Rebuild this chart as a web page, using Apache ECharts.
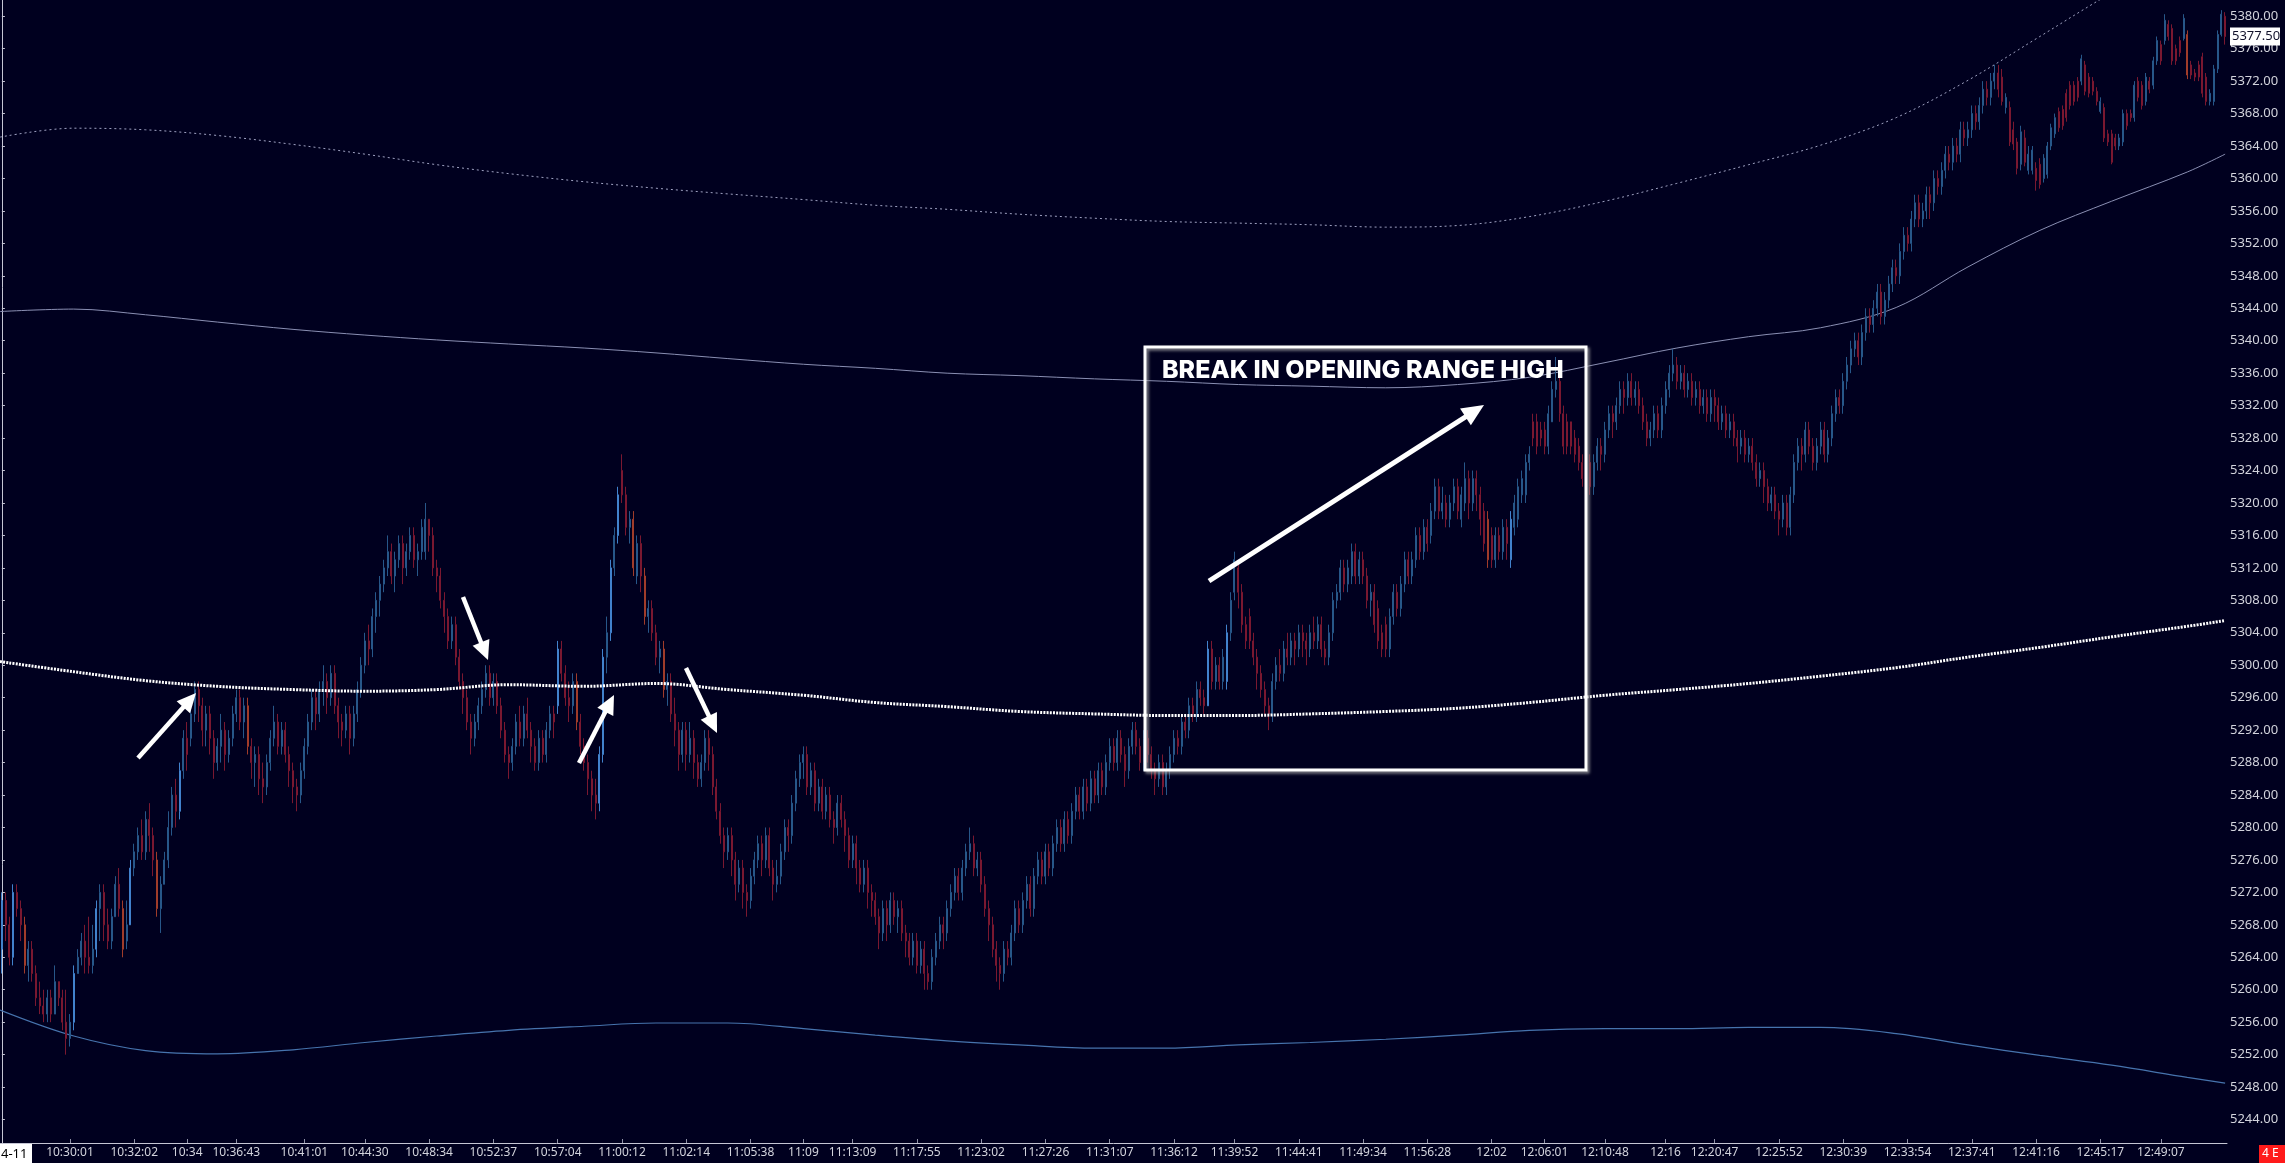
<!DOCTYPE html>
<html><head><meta charset="utf-8">
<script src="https://cdn.jsdelivr.net/npm/echarts@6/dist/echarts.min.js"></script>
<style>html,body{margin:0;padding:0;background:#00001f;overflow:hidden}#c{width:2285px;height:1163px}</style>
</head><body><div id="c"></div>
<script>
// ---- candle data (price) ----
const opens = [
5265,5271,5268,5264,5272,5270,5268,5263,5265,5262,
5259,5258,5257,5259,5257,5261,5259,5256,5254,5256,
5262,5264,5266,5264,5263,5265,5270,5272,5268,5266,
5269,5273,5270,5266,5268,5275,5277,5279,5277,5281,
5279,5276,5270,5273,5276,5280,5284,5282,5287,5291,
5291,5294,5297,5295,5292,5294,5291,5288,5290,5292,
5289,5291,5294,5296,5293,5295,5290,5288,5289,5286,
5285,5288,5291,5293,5290,5292,5289,5287,5285,5284,
5287,5290,5293,5296,5294,5297,5298,5296,5299,5295,
5293,5292,5294,5291,5294,5297,5300,5303,5302,5306,
5308,5310,5312,5314,5311,5313,5315,5312,5314,5316,
5313,5314,5314,5318,5316,5312,5311,5308,5306,5303,
5305,5301,5298,5296,5293,5291,5293,5295,5297,5299,
5296,5298,5295,5292,5289,5288,5290,5293,5291,5294,
5292,5290,5288,5291,5289,5292,5294,5295,5302,5299,
5296,5295,5298,5293,5290,5288,5286,5284,5283,5289,
5301,5304,5312,5316,5324,5321,5317,5318,5311,5315,
5311,5306,5307,5304,5301,5302,5297,5298,5294,5292,
5289,5292,5289,5291,5288,5286,5288,5291,5289,5285,
5282,5279,5277,5279,5276,5273,5275,5272,5271,5274,
5276,5278,5276,5279,5275,5273,5274,5277,5280,5279,
5283,5286,5288,5289,5285,5287,5283,5285,5282,5284,
5281,5280,5283,5281,5279,5276,5278,5275,5273,5275,
5272,5271,5269,5267,5270,5268,5271,5269,5270,5267,
5266,5264,5266,5263,5265,5262,5261,5264,5266,5268,
5267,5270,5272,5274,5272,5275,5277,5278,5275,5276,
5273,5270,5268,5265,5263,5262,5265,5264,5267,5270,
5268,5271,5273,5270,5274,5276,5274,5277,5275,5278,
5280,5278,5281,5279,5282,5284,5282,5285,5283,5286,
5284,5287,5285,5288,5290,5288,5291,5289,5287,5290,
5292,5290,5288,5291,5289,5287,5286,5288,5285,5287,
5289,5291,5290,5293,5292,5295,5294,5297,5296,5295,
5302,5298,5300,5298,5298,5304,5309,5312,5309,5305,
5306,5303,5301,5299,5297,5295,5294,5298,5300,5299,
5302,5301,5303,5302,5304,5303,5302,5304,5303,5305,
5302,5301,5304,5308,5309,5312,5310,5311,5314,5311,
5313,5311,5308,5309,5307,5304,5305,5302,5306,5309,
5307,5310,5313,5311,5313,5316,5314,5317,5316,5319,
5322,5319,5320,5318,5320,5322,5318,5320,5323,5320,
5323,5321,5319,5318,5316,5313,5316,5314,5317,5313,
5317,5318,5321,5321,5325,5330,5330,5329,5329,5327,
5330,5334,5335,5331,5330,5330,5328,5327,5325,5323,
5325,5322,5325,5327,5326,5329,5331,5330,5332,5334,
5333,5335,5333,5334,5332,5330,5328,5329,5331,5329,
5332,5334,5336,5337,5335,5336,5334,5335,5333,5334,
5332,5333,5331,5333,5332,5330,5331,5329,5330,5328,
5327,5328,5326,5327,5325,5323,5324,5322,5320,5321,
5319,5318,5320,5317,5321,5325,5327,5326,5329,5327,
5325,5327,5329,5326,5328,5331,5333,5332,5335,5337,
5339,5340,5338,5341,5343,5342,5344,5346,5343,5345,
5347,5349,5348,5351,5353,5352,5355,5357,5355,5356,
5358,5357,5360,5359,5361,5363,5362,5364,5363,5366,
5365,5366,5368,5367,5369,5371,5370,5372,5373,5372.5,
5368.75,5368.75,5366,5364.5,5361.75,5365,5361,5361,5361.25,5361.75,
5360,5360.5,5364,5365.5,5368.25,5368.5,5370.5,5371.5,5371.5,5372,
5372,5374,5372.5,5372,5370.75,5368.25,5368.75,5365.5,5365.5,5365,
5364,5364.5,5368,5368,5367.5,5372,5371.5,5369.5,5372,5371.5,
5374.5,5376.5,5377,5379,5378.5,5376,5377,5377.25,5377.75,5374,
5373,5374,5375,5372.5,5369.5,5369.5,5373.5,5377.75,5380
];
const closes = [
5271,5268,5264,5272,5270,5268,5263,5265,5262,5259,
5258,5257,5259,5257,5261,5259,5256,5254,5256,5262,
5264,5266,5264,5263,5265,5270,5272,5268,5266,5269,
5273,5270,5265,5268,5275,5277,5279,5277,5281,5279,
5276,5270,5273,5276,5280,5284,5282,5287,5291,5289,
5294,5297,5295,5292,5294,5291,5288,5290,5292,5289,
5291,5294,5296,5293,5295,5290,5288,5289,5286,5285,
5288,5291,5293,5290,5292,5289,5287,5285,5284,5287,
5290,5293,5296,5294,5297,5298,5296,5299,5295,5293,
5292,5294,5291,5294,5297,5300,5303,5302,5306,5308,
5310,5312,5314,5311,5313,5315,5312,5314,5316,5313,
5314,5317,5318,5316,5312,5311,5308,5306,5303,5305,
5301,5298,5296,5293,5291,5293,5295,5297,5299,5296,
5298,5295,5292,5289,5288,5290,5293,5291,5294,5292,
5290,5288,5291,5289,5292,5294,5293,5302,5299,5296,
5295,5298,5293,5290,5288,5286,5284,5283,5289,5301,
5304,5312,5316,5321,5321,5317,5318,5312,5315,5311,
5306,5307,5304,5301,5302,5297,5298,5294,5292,5289,
5292,5289,5291,5288,5286,5288,5291,5289,5285,5282,
5279,5277,5279,5276,5273,5275,5272,5271,5274,5276,
5278,5276,5279,5275,5273,5274,5277,5280,5279,5283,
5286,5288,5289,5285,5287,5283,5285,5282,5284,5281,
5280,5283,5281,5279,5276,5278,5275,5273,5275,5272,
5271,5269,5267,5270,5268,5271,5269,5270,5267,5266,
5264,5266,5263,5265,5262,5261,5264,5266,5268,5267,
5270,5272,5274,5272,5275,5277,5278,5275,5276,5273,
5270,5268,5265,5263,5262,5265,5264,5267,5270,5268,
5271,5273,5270,5274,5276,5274,5277,5275,5278,5280,
5278,5281,5279,5282,5284,5282,5285,5283,5286,5284,
5287,5285,5288,5290,5288,5291,5289,5287,5290,5292,
5290,5288,5291,5289,5287,5286,5288,5285,5287,5289,
5291,5290,5293,5292,5295,5294,5297,5296,5295,5302,
5298,5300,5298,5301,5304,5308,5313,5309,5305,5303,
5303,5301,5299,5297,5295,5294,5298,5300,5299,5302,
5301,5303,5302,5304,5303,5302,5304,5303,5305,5302,
5301,5304,5308,5309,5312,5310,5312,5314,5311,5313,
5311,5308,5309,5305,5303,5302,5302,5306,5309,5307,
5310,5313,5311,5313,5316,5314,5317,5315,5319,5322,
5319,5320,5318,5320,5322,5319,5321,5323,5320,5323,
5321,5318,5315,5313,5313,5316,5314,5317,5315,5318,
5320,5322,5323,5325,5326,5328,5327,5328,5327,5331,
5334,5335,5331,5327,5327,5327,5326,5325,5323,5325,
5322,5325,5327,5326,5329,5331,5330,5332,5334,5333,
5335,5333,5334,5332,5330,5328,5329,5331,5329,5332,
5334,5336,5337,5335,5336,5334,5335,5333,5334,5332,
5333,5331,5333,5332,5330,5331,5329,5330,5328,5327,
5328,5326,5327,5325,5323,5324,5322,5320,5321,5319,
5318,5320,5317,5321,5325,5327,5326,5329,5327,5325,
5327,5329,5326,5328,5331,5333,5332,5335,5337,5339,
5340,5338,5341,5343,5342,5344,5346,5343,5345,5347,
5349,5348,5351,5353,5352,5355,5357,5355,5356,5358,
5357,5360,5359,5361,5363,5362,5364,5363,5366,5365,
5366,5368,5367,5369,5371,5370,5372,5373,5371,5369.5,
5370,5364.5,5364.25,5361.25,5365.75,5362,5363,5363.5,5359.75,5359.25,
5362.5,5364,5366.25,5367.5,5366.25,5366.5,5367.5,5369,5369.5,5370,
5374.75,5370.75,5370.5,5370.75,5369.5,5369.5,5365,5364.5,5362,5364,
5365,5368,5366.5,5367.5,5371.5,5370,5369,5372.5,5371,5374.5,
5377,5374.5,5379.5,5377.5,5374.5,5374.5,5375.5,5379.75,5372.75,5372.75,
5372.5,5372.5,5370.5,5369.5,5370.5,5373.5,5377.75,5380.25,5377.5
];
const lows = [
5262,5266,5263,5263,5269,5266,5262,5261,5261,5258,
5257,5256,5256,5256,5257,5258,5255,5252,5253,5255,
5262,5263,5262,5262,5262,5264,5266,5266,5265,5265,
5269,5269,5264,5265,5268,5274,5276,5276,5276,5277,
5274,5269,5267,5273,5275,5279,5280,5281,5286,5287,
5290,5293,5293,5290,5290,5289,5286,5287,5288,5287,
5288,5290,5293,5292,5291,5289,5286,5285,5284,5283,
5284,5287,5290,5289,5289,5288,5285,5283,5282,5283,
5286,5289,5292,5292,5293,5295,5294,5295,5294,5291,
5290,5291,5289,5290,5293,5296,5299,5300,5301,5304,
5306,5309,5311,5310,5309,5312,5310,5311,5313,5312,
5311,5313,5313,5314,5311,5309,5307,5304,5302,5302,
5300,5297,5294,5292,5289,5290,5292,5294,5296,5295,
5295,5294,5291,5288,5286,5287,5289,5290,5290,5291,
5288,5287,5287,5288,5288,5291,5291,5294,5298,5295,
5293,5294,5292,5289,5287,5284,5282,5281,5282,5288,
5299,5303,5311,5315,5320,5316,5315,5311,5310,5309,
5305,5304,5303,5300,5299,5296,5295,5293,5290,5287,
5288,5287,5288,5286,5285,5285,5287,5287,5284,5281,
5278,5275,5276,5274,5271,5272,5270,5269,5270,5273,
5275,5274,5275,5274,5271,5272,5273,5276,5277,5278,
5282,5285,5286,5284,5284,5282,5282,5281,5281,5280,
5278,5279,5280,5277,5275,5275,5273,5272,5272,5270,
5269,5268,5265,5266,5266,5267,5268,5267,5266,5264,
5263,5263,5262,5262,5260,5260,5260,5263,5265,5265,
5266,5269,5271,5271,5271,5274,5276,5274,5274,5272,
5269,5266,5264,5261,5260,5261,5263,5263,5266,5267,
5267,5270,5269,5269,5273,5273,5273,5274,5274,5277,
5277,5277,5278,5278,5281,5281,5281,5282,5282,5283,
5283,5284,5284,5287,5287,5287,5288,5285,5286,5289,
5289,5287,5287,5288,5286,5284,5285,5284,5284,5286,
5288,5289,5289,5291,5291,5293,5293,5295,5294,5295,
5297,5297,5297,5297,5297,5303,5308,5307,5304,5302,
5302,5300,5297,5296,5294,5292,5293,5297,5298,5298,
5300,5300,5300,5301,5301,5300,5301,5302,5302,5301,
5300,5300,5303,5307,5308,5309,5309,5310,5310,5310,
5310,5307,5306,5304,5302,5301,5301,5301,5305,5306,
5306,5309,5310,5310,5312,5313,5313,5314,5315,5318,
5318,5318,5317,5317,5319,5318,5317,5319,5318,5319,
5319,5316,5314,5312,5312,5312,5313,5313,5313,5312,
5316,5317,5320,5320,5324,5327,5326,5327,5326,5326,
5330,5333,5330,5326,5326,5326,5325,5324,5322,5322,
5321,5321,5324,5324,5325,5328,5328,5329,5331,5331,
5332,5332,5332,5331,5329,5327,5327,5328,5328,5328,
5331,5333,5335,5334,5334,5333,5333,5332,5332,5331,
5331,5330,5330,5330,5329,5329,5328,5328,5327,5325,
5326,5325,5325,5324,5322,5322,5320,5319,5319,5318,
5316,5317,5316,5316,5320,5324,5324,5325,5326,5324,
5324,5326,5325,5325,5327,5330,5331,5331,5334,5336,
5338,5337,5337,5340,5341,5341,5343,5342,5342,5344,
5346,5347,5347,5350,5351,5351,5354,5354,5354,5355,
5355,5356,5358,5358,5360,5361,5361,5362,5362,5364,
5364,5365,5366,5366,5368,5369,5369,5371,5370,5369,
5368,5364,5363.5,5360.5,5361,5361.5,5360.5,5360.5,5358.5,5358.75,
5359.5,5360,5363.5,5365,5365.75,5366,5367,5368.5,5369,5369.5,
5371.5,5370.25,5370,5370.25,5369,5368,5364.5,5364,5361.75,5363.5,
5363.5,5364,5366,5367,5367,5369.5,5368.5,5369,5370.5,5371,
5374,5374,5376.5,5377,5374,5374,5375,5377,5372.25,5372.25,
5372,5372,5370,5369,5369,5369,5373,5377.5,5376.5
];
const highs = [
5272,5272,5269,5273,5273,5271,5269,5266,5266,5263,
5261,5260,5260,5260,5263,5261,5260,5260,5257,5263,
5265,5267,5268,5269,5268,5271,5273,5273,5270,5270,
5274,5275,5271,5271,5276,5278,5280,5281,5282,5283,
5280,5277,5274,5277,5282,5285,5286,5288,5292,5293,
5295,5298,5298,5296,5295,5295,5292,5291,5294,5293,
5292,5295,5297,5297,5296,5296,5291,5290,5290,5288,
5289,5292,5295,5294,5293,5293,5290,5288,5286,5288,
5291,5294,5297,5297,5298,5300,5299,5300,5300,5296,
5294,5295,5295,5295,5298,5301,5304,5305,5307,5309,
5311,5313,5316,5315,5314,5316,5316,5315,5317,5317,
5315,5318,5320,5318,5317,5313,5312,5309,5307,5306,
5306,5302,5299,5297,5294,5294,5296,5298,5300,5300,
5299,5299,5296,5293,5290,5291,5294,5295,5295,5296,
5293,5291,5292,5292,5293,5295,5295,5303,5303,5300,
5298,5299,5299,5294,5291,5289,5287,5286,5290,5302,
5306,5313,5317,5322,5326,5322,5319,5319,5316,5316,
5312,5308,5308,5305,5303,5303,5299,5299,5296,5293,
5293,5293,5293,5292,5289,5289,5292,5292,5290,5286,
5283,5280,5280,5280,5277,5276,5276,5273,5275,5277,
5279,5279,5280,5280,5276,5276,5278,5281,5281,5284,
5287,5289,5290,5290,5288,5288,5286,5286,5285,5285,
5282,5284,5284,5282,5280,5279,5279,5276,5276,5276,
5273,5272,5270,5271,5271,5272,5272,5271,5271,5268,
5267,5267,5267,5266,5266,5263,5265,5267,5269,5269,
5271,5273,5275,5275,5276,5278,5280,5279,5277,5277,
5274,5271,5269,5266,5264,5266,5266,5268,5271,5271,
5272,5274,5274,5275,5277,5277,5278,5278,5279,5281,
5281,5282,5282,5283,5285,5285,5286,5286,5287,5287,
5288,5288,5289,5291,5291,5292,5292,5290,5291,5293,
5293,5291,5292,5292,5290,5288,5289,5289,5288,5290,
5292,5292,5294,5294,5296,5296,5298,5298,5297,5303,
5303,5301,5301,5302,5305,5309,5314,5313,5310,5306,
5307,5304,5302,5300,5298,5296,5299,5301,5302,5303,
5304,5304,5304,5305,5305,5304,5305,5306,5306,5306,
5303,5305,5309,5310,5313,5313,5313,5315,5315,5314,
5314,5312,5310,5310,5308,5305,5306,5307,5310,5310,
5311,5314,5314,5314,5317,5317,5318,5318,5320,5323,
5323,5322,5321,5321,5323,5323,5322,5325,5324,5324,
5324,5322,5320,5319,5317,5317,5317,5318,5318,5319,
5321,5323,5324,5326,5327,5331,5331,5330,5330,5332,
5335,5338,5336,5332,5331,5330,5329,5328,5326,5326,
5326,5326,5328,5328,5330,5332,5332,5333,5335,5335,
5336,5336,5335,5335,5333,5331,5330,5332,5332,5333,
5335,5337,5339,5338,5337,5337,5336,5336,5335,5335,
5334,5334,5334,5334,5333,5332,5332,5331,5331,5329,
5329,5329,5328,5328,5326,5325,5325,5323,5322,5322,
5320,5321,5321,5322,5326,5328,5328,5330,5330,5328,
5328,5330,5330,5329,5332,5334,5334,5336,5338,5340,
5341,5341,5342,5344,5344,5345,5347,5347,5346,5348,
5350,5350,5352,5354,5354,5356,5358,5358,5357,5359,
5359,5361,5361,5362,5364,5364,5365,5365,5367,5367,
5367,5369,5369,5370,5372,5372,5373,5374,5374,5373.5,
5370.5,5369.5,5367,5365,5366.5,5366,5364,5364,5362,5362.5,
5363,5364.5,5366.75,5368,5368.75,5369,5371,5372,5372,5372.5,
5375.25,5374.5,5373,5372.5,5371.25,5370,5369.25,5366,5366,5365.5,
5365.5,5368.5,5368.5,5368.5,5372,5372.5,5372,5373,5372.5,5375,
5377.5,5377,5380.25,5379.5,5379,5376.5,5377.5,5380.25,5378.25,5374.5,
5373.5,5374.5,5375.5,5373,5371,5374,5378.25,5380.75,5380.5
];

// ---- x-axis tick labels (bar index -> time) ----
const tickIndex = [18,35,49,62,80,96,113,130,147,164,181,198,212,225,242,259,276,293,310,326,343,360,377,394,408,424,440,453,470,487,504,521,538,555,571];
const tickLabels = ["10:30:01","10:32:02","10:34","10:36:43","10:41:01","10:44:30","10:48:34","10:52:37","10:57:04","11:00:12","11:02:14","11:05:38","11:09","11:13:09","11:17:55","11:23:02","11:27:26","11:31:07","11:36:12","11:39:52","11:44:41","11:49:34","11:56:28","12:02","12:06:01","12:10:48","12:16","12:20:47","12:25:52","12:30:39","12:33:54","12:37:41","12:41:16","12:45:17","12:49:07"];

// ---- VWAP and bands (bar index knots -> price) ----
const bandX = [-0.5,19,38,57,77,96,115,134,154,173,192,212,231,250,269,289,308,327,346,366,385,404,424,443,462,481,501,520,539,558,578,588];
const upperOuter = [5365.1,5366.2,5366.0,5365.3,5364.2,5363.0,5361.7,5360.6,5359.6,5358.8,5358.1,5357.4,5356.7,5356.2,5355.6,5355.1,5354.7,5354.5,5354.3,5354.0,5354.2,5355.3,5357.2,5359.4,5361.7,5364.1,5367.5,5372.1,5377.5,5382.9,5388.1,5390.8];
const upperInner = [5343.6,5343.9,5343.2,5342.3,5341.4,5340.7,5340.1,5339.6,5339.1,5338.5,5337.8,5337.1,5336.6,5336.0,5335.7,5335.3,5335.0,5334.6,5334.4,5334.2,5334.6,5335.5,5337.3,5339.1,5340.5,5341.6,5344.1,5349.1,5353.6,5357.2,5360.8,5363.0];
const vwap = [5300.45,5299.2,5298.1,5297.4,5297.0,5296.8,5297.0,5297.6,5297.4,5297.75,5297.0,5296.3,5295.4,5294.9,5294.3,5294.0,5293.8,5293.8,5294.0,5294.3,5294.7,5295.4,5296.3,5297.0,5297.75,5298.65,5299.7,5301.0,5302.2,5303.5,5304.8,5305.5];
const lowerBand = [5257.5,5254.3,5252.5,5252.1,5252.6,5253.5,5254.3,5255.0,5255.5,5255.9,5255.9,5255.2,5254.4,5253.7,5253.2,5252.8,5252.8,5253.2,5253.5,5253.9,5254.4,5255.0,5255.2,5255.2,5255.35,5255.35,5254.6,5253.2,5251.9,5250.7,5249.2,5248.5];

const lastPrice = 5377.50;
const dateLabel = "4-11";
const annotationTitle = "BREAK IN OPENING RANGE HIGH";

// ---------------------------------------------------------------
const N = closes.length;
const cats = closes.map((_, i) => String(i));
const labelAt = {};
tickIndex.forEach((k, j) => { labelAt[k] = tickLabels[j]; });
const hasLabel = (i) => labelAt[i] !== undefined;

function candleColor(o, c) {
  const d = c - o;
  if (d >= 0) return d >= 5 ? '#4282cc' : '#275789';
  return -d >= 5 ? '#a03c2a' : '#7a1830';
}
const candleData = closes.map((c, i) => {
  const col = candleColor(opens[i], c);
  return { value: [opens[i], c, lows[i], highs[i]],
           itemStyle: { color: col, color0: col, borderColor: col, borderColor0: col } };
});
const pairs = (arr) => bandX.map((x, i) => [x, arr[i]]);

const FONT = '"Noto Sans", "Open Sans", sans-serif';
const chart = echarts.init(document.getElementById('c'), null, { renderer: 'canvas' });

const bandLine = (data, style, z) => ({
  type: 'line', xAxisIndex: 1, yAxisIndex: 0, data, smooth: 0.35, symbol: 'none',
  lineStyle: style, z, silent: true, animation: false
});

chart.setOption({
  animation: false,
  backgroundColor: '#00001f',
  grid: { left: 0, right: 58, top: 0, height: 1152 },
  xAxis: [
    { type: 'category', data: cats, boundaryGap: true, offset: -9,
      axisLine: { lineStyle: { color: '#c5c6d4', width: 1 } },
      axisTick: { show: true, inside: true, length: 4, alignWithLabel: true, interval: (i) => hasLabel(i),
                  lineStyle: { color: '#8f91a6' } },
      axisLabel: { interval: (i) => hasLabel(i), formatter: (v, i) => labelAt[i] || '',
                   color: '#d2d3dc', fontFamily: FONT, fontSize: 12, margin: 4 },
      splitLine: { show: false } },
    { type: 'value', min: -0.5, max: N - 0.5, show: false }
  ],
  yAxis: { type: 'value', position: 'right', min: 5240, max: 5382, interval: 4,
    axisLine: { show: true, lineStyle: { color: '#c5c6d4' } },
    axisTick: { show: true, length: 3, lineStyle: { color: '#c5c6d4' } },
    axisLabel: { color: '#d2d3dc', fontFamily: FONT, fontSize: 13, margin: 3,
                 formatter: (v) => v.toFixed(2), showMinLabel: false, showMaxLabel: false },
    splitLine: { show: false } },
  series: [
    bandLine(pairs(upperOuter), { color: '#9fa2c2', width: 1, type: [2, 3] }, 1),
    bandLine(pairs(upperInner), { color: '#8a8fb3', width: 1 }, 1),
    bandLine(pairs(lowerBand), { color: '#4673ad', width: 1.2 }, 1),
    { type: 'candlestick', xAxisIndex: 0, yAxisIndex: 0, data: candleData, barWidth: 1.5,
      itemStyle: { borderWidth: 1 }, z: 2, silent: true },
    bandLine(pairs(vwap), { color: '#ffffff', width: 3, type: [2, 1.2] }, 3)
  ]
});

// ---- annotations ----
function arrow(x1, y1, x2, y2, w, hl, hw) {
  const dx = x2 - x1, dy = y2 - y1, L = Math.hypot(dx, dy), ux = dx / L, uy = dy / L;
  const bx = x2 - ux * hl, by = y2 - uy * hl, nx = -uy, ny = ux;
  return [
    { type: 'line', z: 100, shape: { x1, y1, x2: bx + ux, y2: by + uy }, style: { stroke: '#ffffff', lineWidth: w } },
    { type: 'polygon', z: 100, shape: { points: [[x2, y2], [bx + nx * hw, by + ny * hw], [bx - nx * hw, by - ny * hw]] },
      style: { fill: '#ffffff' } }
  ];
}
const yLast = chart.convertToPixel({ yAxisIndex: 0 }, lastPrice);
const g = [
  { type: 'rect', z: 100, shape: { x: 1145, y: 347, width: 441, height: 423 },
    style: { fill: 'none', stroke: '#ffffff', lineWidth: 3, shadowBlur: 3, shadowColor: 'rgba(170,170,170,0.8)', shadowOffsetX: 2, shadowOffsetY: 2 } },
  { type: 'text', z: 100, x: 1162, y: 370,
    style: { text: annotationTitle, fill: '#ffffff', font: '800 25px Inter, "Noto Sans", sans-serif',
             textAlign: 'left', textVerticalAlign: 'middle', align: 'left', verticalAlign: 'middle' } },
  ...arrow(1209, 581, 1484, 405, 5, 22, 10),
  ...arrow(138, 758, 196, 693, 4.5, 19, 9),
  ...arrow(463, 597, 488, 660, 4.5, 19, 9),
  ...arrow(579, 763, 614, 695, 4.5, 19, 9),
  ...arrow(686, 668, 717, 733, 4.5, 19, 9),
  // last price tag
  { type: 'rect', z: 110, shape: { x: 2230, y: yLast - 9, width: 50, height: 18 }, style: { fill: '#ffffff' } },
  { type: 'text', z: 111, x: 2232, y: yLast,
    style: { text: lastPrice.toFixed(2), fill: '#11112a', font: '13px ' + FONT,
             textAlign: 'left', textVerticalAlign: 'middle', align: 'left', verticalAlign: 'middle' } },
  // date tag at left of time axis
  { type: 'rect', z: 110, shape: { x: 0, y: 1144, width: 32, height: 19 }, style: { fill: '#ffffff' } },
  { type: 'text', z: 111, x: 1, y: 1154,
    style: { text: dateLabel, fill: '#000000', font: '13px ' + FONT,
             textAlign: 'left', textVerticalAlign: 'middle', align: 'left', verticalAlign: 'middle' } },
  // red status tag bottom right
  { type: 'rect', z: 110, shape: { x: 2259, y: 1145, width: 26, height: 18 }, style: { fill: '#ff1a1a' } },
  { type: 'text', z: 111, x: 2262, y: 1154,
    style: { text: '4 E', fill: '#ffffff', font: '12px ' + FONT,
             textAlign: 'left', textVerticalAlign: 'middle', align: 'left', verticalAlign: 'middle' } }
];
chart.setOption({ graphic: g });
</script>
</body></html>
